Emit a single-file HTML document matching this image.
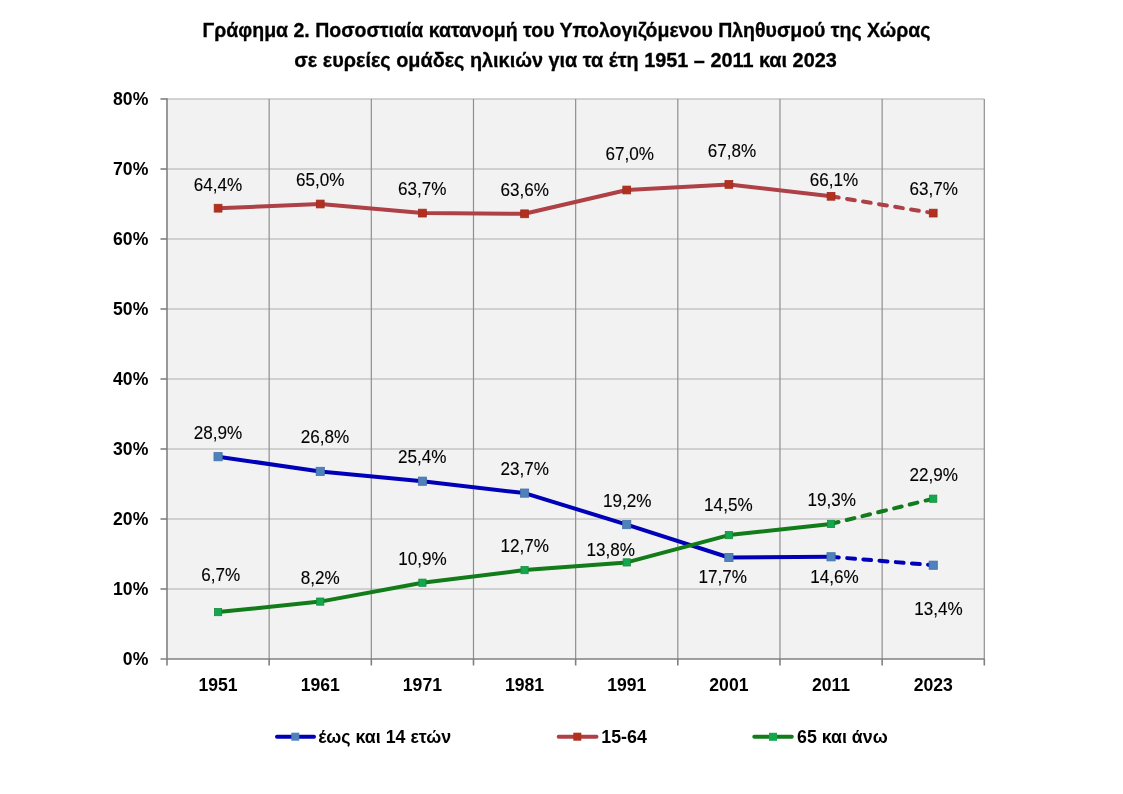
<!DOCTYPE html>
<html><head><meta charset="utf-8"><title>Γράφημα 2</title>
<style>
html,body{margin:0;padding:0;background:#fff;}
body{width:1123px;height:794px;overflow:hidden;}
svg{display:block;will-change:transform;}
text{font-family:"Liberation Sans",sans-serif;fill:#000;}
.b{font-weight:bold;font-size:17.6px;}
.r{font-size:18.2px;fill:#000;stroke:#000;stroke-width:0.12px;}
.t{font-weight:bold;font-size:19.5px;stroke:#000;stroke-width:0.3px;}
.lg{font-weight:bold;font-size:17.8px;}
</style></head>
<body>
<svg width="1123" height="794" viewBox="0 0 1123 794">
<rect x="167.0" y="99.0" width="817.30" height="560.0" fill="#f2f2f2"/>
<line x1="167.0" y1="99.0" x2="984.3" y2="99.0" stroke="#c4c4c4" stroke-width="1.6"/>
<line x1="167.0" y1="169.0" x2="984.3" y2="169.0" stroke="#c4c4c4" stroke-width="1.6"/>
<line x1="167.0" y1="239.0" x2="984.3" y2="239.0" stroke="#c4c4c4" stroke-width="1.6"/>
<line x1="167.0" y1="309.0" x2="984.3" y2="309.0" stroke="#c4c4c4" stroke-width="1.6"/>
<line x1="167.0" y1="379.0" x2="984.3" y2="379.0" stroke="#c4c4c4" stroke-width="1.6"/>
<line x1="167.0" y1="449.0" x2="984.3" y2="449.0" stroke="#c4c4c4" stroke-width="1.6"/>
<line x1="167.0" y1="519.0" x2="984.3" y2="519.0" stroke="#c4c4c4" stroke-width="1.6"/>
<line x1="167.0" y1="589.0" x2="984.3" y2="589.0" stroke="#c4c4c4" stroke-width="1.6"/>
<line x1="269.16" y1="99.0" x2="269.16" y2="659.0" stroke="#8f8f8f" stroke-width="1.2"/>
<line x1="371.32" y1="99.0" x2="371.32" y2="659.0" stroke="#8f8f8f" stroke-width="1.2"/>
<line x1="473.49" y1="99.0" x2="473.49" y2="659.0" stroke="#8f8f8f" stroke-width="1.2"/>
<line x1="575.65" y1="99.0" x2="575.65" y2="659.0" stroke="#8f8f8f" stroke-width="1.2"/>
<line x1="677.81" y1="99.0" x2="677.81" y2="659.0" stroke="#8f8f8f" stroke-width="1.2"/>
<line x1="779.97" y1="99.0" x2="779.97" y2="659.0" stroke="#8f8f8f" stroke-width="1.2"/>
<line x1="882.14" y1="99.0" x2="882.14" y2="659.0" stroke="#8f8f8f" stroke-width="1.2"/>
<line x1="984.30" y1="99.0" x2="984.30" y2="659.0" stroke="#8f8f8f" stroke-width="1.2"/>
<line x1="167.0" y1="98.2" x2="167.0" y2="665.5" stroke="#808080" stroke-width="1.6"/>
<line x1="160.5" y1="659.0" x2="984.3" y2="659.0" stroke="#808080" stroke-width="1.6"/>
<line x1="160.5" y1="99.0" x2="167.0" y2="99.0" stroke="#808080" stroke-width="1.6"/>
<line x1="160.5" y1="169.0" x2="167.0" y2="169.0" stroke="#808080" stroke-width="1.6"/>
<line x1="160.5" y1="239.0" x2="167.0" y2="239.0" stroke="#808080" stroke-width="1.6"/>
<line x1="160.5" y1="309.0" x2="167.0" y2="309.0" stroke="#808080" stroke-width="1.6"/>
<line x1="160.5" y1="379.0" x2="167.0" y2="379.0" stroke="#808080" stroke-width="1.6"/>
<line x1="160.5" y1="449.0" x2="167.0" y2="449.0" stroke="#808080" stroke-width="1.6"/>
<line x1="160.5" y1="519.0" x2="167.0" y2="519.0" stroke="#808080" stroke-width="1.6"/>
<line x1="160.5" y1="589.0" x2="167.0" y2="589.0" stroke="#808080" stroke-width="1.6"/>
<line x1="269.16" y1="659.0" x2="269.16" y2="665.5" stroke="#808080" stroke-width="1.6"/>
<line x1="371.32" y1="659.0" x2="371.32" y2="665.5" stroke="#808080" stroke-width="1.6"/>
<line x1="473.49" y1="659.0" x2="473.49" y2="665.5" stroke="#808080" stroke-width="1.6"/>
<line x1="575.65" y1="659.0" x2="575.65" y2="665.5" stroke="#808080" stroke-width="1.6"/>
<line x1="677.81" y1="659.0" x2="677.81" y2="665.5" stroke="#808080" stroke-width="1.6"/>
<line x1="779.97" y1="659.0" x2="779.97" y2="665.5" stroke="#808080" stroke-width="1.6"/>
<line x1="882.14" y1="659.0" x2="882.14" y2="665.5" stroke="#808080" stroke-width="1.6"/>
<line x1="984.30" y1="659.0" x2="984.30" y2="665.5" stroke="#808080" stroke-width="1.6"/>
<text x="148.3" y="104.60" text-anchor="end" class="b">80%</text>
<text x="148.3" y="174.60" text-anchor="end" class="b">70%</text>
<text x="148.3" y="244.60" text-anchor="end" class="b">60%</text>
<text x="148.3" y="314.60" text-anchor="end" class="b">50%</text>
<text x="148.3" y="384.60" text-anchor="end" class="b">40%</text>
<text x="148.3" y="454.60" text-anchor="end" class="b">30%</text>
<text x="148.3" y="524.60" text-anchor="end" class="b">20%</text>
<text x="148.3" y="594.60" text-anchor="end" class="b">10%</text>
<text x="148.3" y="664.60" text-anchor="end" class="b">0%</text>
<text x="218.08" y="690.6" text-anchor="middle" class="b">1951</text>
<text x="320.24" y="690.6" text-anchor="middle" class="b">1961</text>
<text x="422.41" y="690.6" text-anchor="middle" class="b">1971</text>
<text x="524.57" y="690.6" text-anchor="middle" class="b">1981</text>
<text x="626.73" y="690.6" text-anchor="middle" class="b">1991</text>
<text x="728.89" y="690.6" text-anchor="middle" class="b">2001</text>
<text x="831.06" y="690.6" text-anchor="middle" class="b">2011</text>
<text x="933.22" y="690.6" text-anchor="middle" class="b">2023</text>
<path d="M218.08,208.20 C218.08,208.20 320.24,204.00 320.24,204.00 C320.24,204.00 422.41,213.10 422.41,213.10 C422.41,213.10 524.57,213.80 524.57,213.80 C524.57,213.80 626.73,190.00 626.73,190.00 C626.73,190.00 728.89,184.40 728.89,184.40 C728.89,184.40 831.06,196.30 831.06,196.30" fill="none" stroke="#ae4146" stroke-width="4.0" stroke-linejoin="round" stroke-linecap="round"/>
<path d="M831.06,196.30 C831.06,196.30 933.22,213.10 933.22,213.10" fill="none" stroke="#ae4146" stroke-width="4.0" stroke-linecap="round" stroke-dasharray="7.9 8.3"/>
<rect x="214.18" y="204.30" width="7.80" height="7.80" fill="#b3301f" stroke="#a02c1e" stroke-width="0.8"/>
<rect x="316.34" y="200.10" width="7.80" height="7.80" fill="#b3301f" stroke="#a02c1e" stroke-width="0.8"/>
<rect x="418.51" y="209.20" width="7.80" height="7.80" fill="#b3301f" stroke="#a02c1e" stroke-width="0.8"/>
<rect x="520.67" y="209.90" width="7.80" height="7.80" fill="#b3301f" stroke="#a02c1e" stroke-width="0.8"/>
<rect x="622.83" y="186.10" width="7.80" height="7.80" fill="#b3301f" stroke="#a02c1e" stroke-width="0.8"/>
<rect x="724.99" y="180.50" width="7.80" height="7.80" fill="#b3301f" stroke="#a02c1e" stroke-width="0.8"/>
<rect x="827.16" y="192.40" width="7.80" height="7.80" fill="#b3301f" stroke="#a02c1e" stroke-width="0.8"/>
<rect x="929.32" y="209.20" width="7.80" height="7.80" fill="#b3301f" stroke="#a02c1e" stroke-width="0.8"/>
<path d="M218.08,456.70 C218.08,456.70 320.24,471.40 320.24,471.40 C320.24,471.40 422.41,481.20 422.41,481.20 C422.41,481.20 524.57,493.10 524.57,493.10 C524.57,493.10 626.73,524.60 626.73,524.60 C626.73,524.60 728.89,557.50 728.89,557.50 C728.89,557.50 831.06,556.80 831.06,556.80" fill="none" stroke="#0000b8" stroke-width="4.0" stroke-linejoin="round" stroke-linecap="round"/>
<path d="M831.06,556.80 C831.06,556.80 933.22,565.20 933.22,565.20" fill="none" stroke="#0000b8" stroke-width="4.0" stroke-linecap="round" stroke-dasharray="7.9 8.3"/>
<rect x="213.98" y="452.60" width="8.20" height="8.20" fill="#4f81bd" stroke="#4272a8" stroke-width="0.8"/>
<rect x="316.14" y="467.30" width="8.20" height="8.20" fill="#4f81bd" stroke="#4272a8" stroke-width="0.8"/>
<rect x="418.31" y="477.10" width="8.20" height="8.20" fill="#4f81bd" stroke="#4272a8" stroke-width="0.8"/>
<rect x="520.47" y="489.00" width="8.20" height="8.20" fill="#4f81bd" stroke="#4272a8" stroke-width="0.8"/>
<rect x="622.63" y="520.50" width="8.20" height="8.20" fill="#4f81bd" stroke="#4272a8" stroke-width="0.8"/>
<rect x="724.79" y="553.40" width="8.20" height="8.20" fill="#4f81bd" stroke="#4272a8" stroke-width="0.8"/>
<rect x="826.96" y="552.70" width="8.20" height="8.20" fill="#4f81bd" stroke="#4272a8" stroke-width="0.8"/>
<rect x="929.12" y="561.10" width="8.20" height="8.20" fill="#4f81bd" stroke="#4272a8" stroke-width="0.8"/>
<path d="M218.08,612.10 C218.08,612.10 320.24,601.60 320.24,601.60 C320.24,601.60 422.41,582.70 422.41,582.70 C422.41,582.70 524.57,570.10 524.57,570.10 C524.57,570.10 626.73,562.40 626.73,562.40 C626.73,562.40 728.89,535.10 728.89,535.10 C728.89,535.10 831.06,523.90 831.06,523.90" fill="none" stroke="#117c19" stroke-width="4.0" stroke-linejoin="round" stroke-linecap="round"/>
<path d="M831.06,523.90 C831.06,523.90 933.22,498.70 933.22,498.70" fill="none" stroke="#117c19" stroke-width="4.0" stroke-linecap="round" stroke-dasharray="7.9 8.3"/>
<rect x="214.48" y="608.50" width="7.20" height="7.20" fill="#13a84f" stroke="#178a3c" stroke-width="0.8"/>
<rect x="316.64" y="598.00" width="7.20" height="7.20" fill="#13a84f" stroke="#178a3c" stroke-width="0.8"/>
<rect x="418.81" y="579.10" width="7.20" height="7.20" fill="#13a84f" stroke="#178a3c" stroke-width="0.8"/>
<rect x="520.97" y="566.50" width="7.20" height="7.20" fill="#13a84f" stroke="#178a3c" stroke-width="0.8"/>
<rect x="623.13" y="558.80" width="7.20" height="7.20" fill="#13a84f" stroke="#178a3c" stroke-width="0.8"/>
<rect x="725.29" y="531.50" width="7.20" height="7.20" fill="#13a84f" stroke="#178a3c" stroke-width="0.8"/>
<rect x="827.46" y="520.30" width="7.20" height="7.20" fill="#13a84f" stroke="#178a3c" stroke-width="0.8"/>
<rect x="929.62" y="495.10" width="7.20" height="7.20" fill="#13a84f" stroke="#178a3c" stroke-width="0.8"/>
<text transform="translate(217.95 190.55) scale(0.94 1)" text-anchor="middle" class="r">64,4%</text>
<text transform="translate(320.15 186.25) scale(0.94 1)" text-anchor="middle" class="r">65,0%</text>
<text transform="translate(422.30 195.15) scale(0.94 1)" text-anchor="middle" class="r">63,7%</text>
<text transform="translate(524.65 195.95) scale(0.94 1)" text-anchor="middle" class="r">63,6%</text>
<text transform="translate(629.80 159.95) scale(0.94 1)" text-anchor="middle" class="r">67,0%</text>
<text transform="translate(732.05 157.15) scale(0.94 1)" text-anchor="middle" class="r">67,8%</text>
<text transform="translate(834.05 186.15) scale(0.94 1)" text-anchor="middle" class="r">66,1%</text>
<text transform="translate(933.65 195.15) scale(0.94 1)" text-anchor="middle" class="r">63,7%</text>
<text transform="translate(217.95 439.05) scale(0.94 1)" text-anchor="middle" class="r">28,9%</text>
<text transform="translate(324.95 442.95) scale(0.94 1)" text-anchor="middle" class="r">26,8%</text>
<text transform="translate(422.30 462.95) scale(0.94 1)" text-anchor="middle" class="r">25,4%</text>
<text transform="translate(524.65 474.95) scale(0.94 1)" text-anchor="middle" class="r">23,7%</text>
<text transform="translate(627.20 507.15) scale(0.94 1)" text-anchor="middle" class="r">19,2%</text>
<text transform="translate(728.35 511.15) scale(0.94 1)" text-anchor="middle" class="r">14,5%</text>
<text transform="translate(834.55 583.15) scale(0.94 1)" text-anchor="middle" class="r">14,6%</text>
<text transform="translate(938.45 615.15) scale(0.94 1)" text-anchor="middle" class="r">13,4%</text>
<text transform="translate(220.80 581.15) scale(0.94 1)" text-anchor="middle" class="r">6,7%</text>
<text transform="translate(320.20 584.15) scale(0.94 1)" text-anchor="middle" class="r">8,2%</text>
<text transform="translate(422.45 565.15) scale(0.94 1)" text-anchor="middle" class="r">10,9%</text>
<text transform="translate(524.75 552.15) scale(0.94 1)" text-anchor="middle" class="r">12,7%</text>
<text transform="translate(610.75 555.95) scale(0.94 1)" text-anchor="middle" class="r">13,8%</text>
<text transform="translate(722.75 583.15) scale(0.94 1)" text-anchor="middle" class="r">17,7%</text>
<text transform="translate(831.65 506.15) scale(0.94 1)" text-anchor="middle" class="r">19,3%</text>
<text transform="translate(933.65 481.15) scale(0.94 1)" text-anchor="middle" class="r">22,9%</text>
<text x="566.5" y="37.1" text-anchor="middle" class="t">Γράφημα 2. Ποσοστιαία κατανομή του Υπολογιζόμενου Πληθυσμού της Χώρας</text>
<text x="565.5" y="67.0" text-anchor="middle" class="t" style="font-size:19.85px">σε ευρείες ομάδες ηλικιών για τα έτη 1951 – 2011 και 2023</text>
<line x1="277" y1="736.7" x2="314" y2="736.7" stroke="#0000b8" stroke-width="4.0" stroke-linecap="round"/><rect x="291.30" y="732.70" width="8" height="8" fill="#4f81bd"/><text x="318.3" y="742.8" class="lg">έως και 14 ετών</text>
<line x1="558.7" y1="736.7" x2="596.5" y2="736.7" stroke="#ae4146" stroke-width="4.0" stroke-linecap="round"/><rect x="573.30" y="732.70" width="8" height="8" fill="#b3301f"/><text x="601.3" y="742.8" class="lg">15-64</text>
<line x1="754.3" y1="736.8" x2="791.8" y2="736.8" stroke="#117c19" stroke-width="4.0" stroke-linecap="round"/><rect x="769.00" y="732.80" width="8" height="8" fill="#13a84f"/><text x="797.0" y="742.8" class="lg">65 και άνω</text>
</svg>
</body></html>
